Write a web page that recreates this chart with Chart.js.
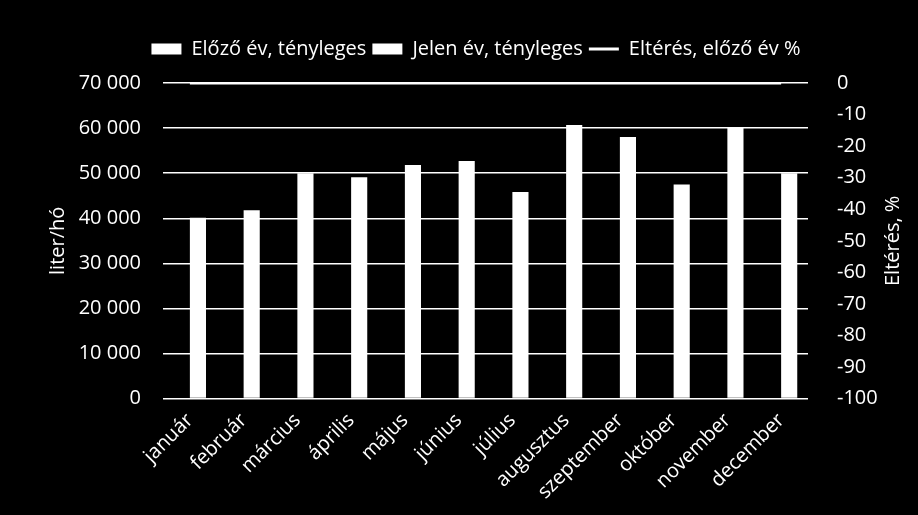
<!DOCTYPE html>
<html>
<head>
<meta charset="utf-8">
<script src="https://cdn.jsdelivr.net/npm/chart.js@4.4.1/dist/chart.umd.min.js"></script>
<style>
  html, body { margin: 0; padding: 0; background: #000; }
  #wrap { width: 918px; height: 515px; }
</style>
</head>
<body>
<div id="wrap"><canvas id="fuel-chart"></canvas></div>
<script>
// months on the x axis
const months = ["január", "február", "március", "április", "május", "június", "július", "augusztus", "szeptember", "október", "november", "december"]
// liter/hó, previous year has no values in the picture
const prevYear = [null, null, null, null, null, null, null, null, null, null, null, null]
const currYear = [40100, 41800, 50000, 49100, 51800, 52700, 45800, 60700, 58000, 47500, 60000, 50000]
// difference vs previous year, %
const diffPct = [0, 0, 0, 0, 0, 0, 0, 0, 0, 0, 0, 0]

const fontFam = "'Open Sans', sans-serif"
const fontSize = 20
const white = "#ffffff"

Chart.defaults.font.family = fontFam
Chart.defaults.color = white

// black background, extra gap under the legend, right axis title reading bottom-to-top
const bgPlugin = {
    id: "bg",
    beforeInit(chart) {
        const fit = chart.legend.fit
        chart.legend.fit = function () {
            fit.call(this)
            this.height += 14
        }
    },
    beforeDraw(chart) {
        const ctx = chart.ctx
        ctx.save()
        ctx.fillStyle = "#000"
        ctx.fillRect(0, 0, chart.width, chart.height)
        ctx.restore()
    },
    afterDraw(chart) {
        const s = chart.scales.y1
        const ctx = chart.ctx
        ctx.save()
        ctx.translate(s.right - 13, (s.top + s.bottom) / 2)
        ctx.rotate(-Math.PI / 2)
        ctx.textAlign = "center"
        ctx.textBaseline = "middle"
        ctx.fillStyle = white
        ctx.font = fontSize + "px " + fontFam
        ctx.fillText("Eltérés, %", 0, 0)
        ctx.restore()
    }
}

new Chart("fuel-chart", {
    type: "bar",
    data: {
        labels: months,
        datasets: [
            {
                label: "Előző év, tényleges",
                data: prevYear,
                backgroundColor: white,
                yAxisID: "y"
            },
            {
                label: "Jelen év, tényleges",
                data: currYear,
                backgroundColor: white,
                yAxisID: "y"
            },
            {
                type: "line",
                label: "Eltérés, előző év %",
                data: diffPct,
                borderColor: white,
                backgroundColor: white,
                borderWidth: 3,
                pointRadius: 0,
                yAxisID: "y1",
                order: -1
            }
        ]
    },
    options: {
        responsive: true,
        maintainAspectRatio: false,
        animation: false,
        datasets: {
            bar: { barPercentage: 1, categoryPercentage: 0.6 }
        },
        layout: { padding: { left: 46, right: 12, top: 33, bottom: 9 } },
        plugins: {
            tooltip: { enabled: false },
            legend: {
                position: "top",
                labels: {
                    color: white,
                    font: { size: fontSize },
                    usePointStyle: true,
                    pointStyleWidth: 30,
                    boxHeight: 11,
                    padding: 6,
                    sort: (a, b) => a.datasetIndex - b.datasetIndex,
                    generateLabels(chart) {
                        const items = Chart.defaults.plugins.legend.labels.generateLabels(chart)
                        items.forEach(it => {
                            const isLine = it.datasetIndex === 2
                            it.pointStyle = isLine ? "line" : "rect"
                            it.fillStyle = white
                            it.strokeStyle = white
                            it.lineWidth = isLine ? 3 : 0
                            it.fontColor = white
                        })
                        return items
                    }
                }
            }
        },
        scales: {
            x: {
                grid: { display: false },
                border: { display: false },
                ticks: { color: white, font: { size: fontSize }, minRotation: 45, maxRotation: 45, autoSkip: false, padding: 2 }
            },
            y: {
                position: "left",
                min: 0,
                max: 70000,
                grid: { color: white, lineWidth: 1.5, drawTicks: false },
                border: { display: false },
                ticks: {
                    stepSize: 10000,
                    color: white,
                    font: { size: fontSize },
                    padding: 22,
                    callback: v => String(v).replace(/\B(?=(\d{3})+(?!\d))/g, " ")
                },
                title: { display: true, text: "liter/hó", color: white, font: { size: fontSize }, padding: { top: 0, bottom: 0 } },
                afterFit: s => { s.width = 117 }
            },
            y1: {
                position: "right",
                min: -100,
                max: 0,
                grid: { display: false },
                border: { display: false },
                ticks: { stepSize: 10, color: white, font: { size: fontSize }, padding: 21 },
                title: { display: false },
                afterFit: s => { s.width = 98 }
            }
        }
    },
    plugins: [bgPlugin]
})
</script>
</body>
</html>
